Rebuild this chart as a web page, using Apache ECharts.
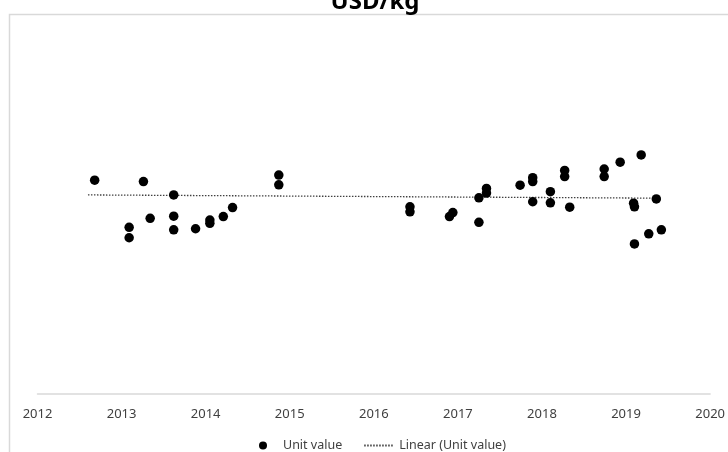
<!DOCTYPE html>
<html>
<head>
<meta charset="utf-8">
<script src="https://cdn.jsdelivr.net/npm/echarts@6/dist/echarts.min.js"></script>
<style>html,body{margin:0;padding:0;background:#fff;}#c{width:728px;height:452px;}</style>
</head>
<body>
<div id="c"></div>
<script>
// x axis ticks (years)
var xTicks = [2012, 2013, 2014, 2015, 2016, 2017, 2018, 2019, 2020];
// Unit value observations: decimal year and USD/kg
var years = [2012.68, 2013.26, 2013.09, 2013.09, 2013.34, 2013.62, 2013.62, 2013.62, 2013.88, 2014.05,
             2014.05, 2014.21, 2014.32, 2014.87, 2014.87, 2016.43, 2016.43, 2016.90, 2016.94, 2017.25,
             2017.25, 2017.34, 2017.34, 2017.74, 2017.89, 2017.89, 2017.89, 2018.10, 2018.10, 2018.27,
             2018.27, 2018.33, 2018.74, 2018.74, 2018.93, 2019.18, 2019.09, 2019.10, 2019.36, 2019.10,
             2019.27, 2019.42];
var unitValues = [5.94, 5.90, 4.63, 4.34, 4.88, 5.53, 4.94, 4.56, 4.59, 4.83,
                  4.74, 4.93, 5.18, 6.08, 5.81, 5.20, 5.06, 4.93, 5.04, 5.45,
                  4.77, 5.71, 5.58, 5.80, 6.01, 5.90, 5.34, 5.62, 5.31, 6.21,
                  6.04, 5.19, 6.25, 6.04, 6.44, 6.64, 5.30, 5.20, 5.42, 4.17,
                  4.45, 4.56];
// Linear trend end points
var trendYears = [2012.60, 2019.35];
var trendValues = [5.53, 5.44];

var scatterData = years.map(function (y, i) { return [y, unitValues[i]]; });
var trendData = trendYears.map(function (y, i) { return [y, trendValues[i]]; });

var chart = echarts.init(document.getElementById('c'), null, {renderer: 'canvas'});
chart.setOption({
  animation: false,
  backgroundColor: '#fff',
  title: {
    text: 'USD/kg',
    left: 375,
    top: -10,
    textAlign: 'center',
    padding: 0,
    textStyle: {fontFamily: 'Noto Sans', fontWeight: 'bold', fontSize: 24, color: '#000'}
  },
  graphic: [{
    type: 'rect',
    shape: {x: 9.5, y: 14.5, width: 740, height: 460},
    style: {fill: 'none', stroke: '#d9d9d9', lineWidth: 1.5},
    silent: true,
    z: -1
  }],
  grid: {left: 37.5, right: 16, top: 34, bottom: 58, containLabel: false},
  xAxis: {
    type: 'value',
    min: xTicks[0],
    max: xTicks[xTicks.length - 1],
    interval: 1,
    axisLine: {show: true, lineStyle: {color: '#d9d9d9', width: 1.5}},
    axisTick: {show: false},
    splitLine: {show: false},
    axisLabel: {
      color: '#404040', fontFamily: 'Noto Sans', fontSize: 13, margin: 14,
      formatter: function (v) { return String(v); }
    }
  },
  yAxis: {
    type: 'value',
    min: 0,
    max: 10,
    show: false,
    splitLine: {show: false}
  },
  legend: {
    left: 254,
    top: 434,
    itemGap: 21,
    itemWidth: 30,
    itemHeight: 8,
    textStyle: {color: '#404040', fontFamily: 'Noto Sans', fontSize: 12.5, padding: [0, 0, 0, 0]},
    data: [
      {name: 'Unit value', icon: 'circle', itemStyle: {opacity: 1}},
      {name: 'Linear (Unit value)', itemStyle: {opacity: 0}}
    ]
  },
  series: [
    {
      name: 'Unit value',
      type: 'scatter',
      data: scatterData,
      symbol: 'circle',
      symbolSize: 9.5,
      itemStyle: {color: '#000', opacity: 1},
      z: 3
    },
    {
      name: 'Linear (Unit value)',
      type: 'line',
      data: trendData,
      symbol: 'none',
      showSymbol: false,
      lineStyle: {color: '#404040', width: 1.3, type: [1.5, 1.5]},
      itemStyle: {color: '#404040'},
      z: 2
    }
  ]
});
</script>
</body>
</html>
